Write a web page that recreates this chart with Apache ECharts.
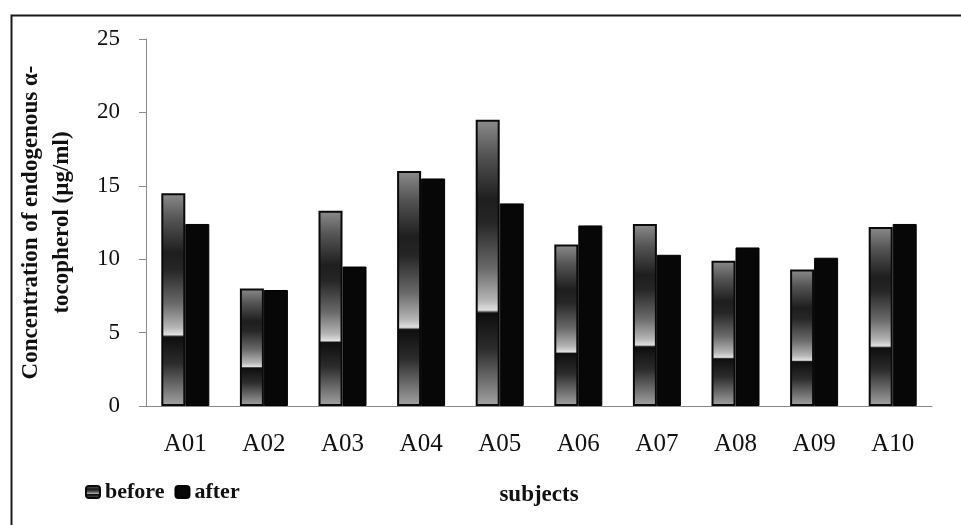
<!DOCTYPE html>
<html>
<head>
<meta charset="utf-8">
<title>Endogenous α-tocopherol before and after</title>
<script src="https://cdn.jsdelivr.net/npm/echarts@6/dist/echarts.min.js"></script>
<style>
  html, body { margin: 0; padding: 0; background: #ffffff; }
  #chart { width: 961px; height: 525px; }
</style>
</head>
<body>
<div id="chart"></div>
<script>
// Subjects and measured concentrations (µg/ml)
var subjects = ['A01', 'A02', 'A03', 'A04', 'A05', 'A06', 'A07', 'A08', 'A09', 'A10'];
var beforeValues = [14.5, 8.0, 13.3, 16.0, 19.5, 11.0, 12.4, 9.9, 9.3, 12.2];
var afterValues = [12.4, 7.9, 9.5, 15.5, 13.8, 12.3, 10.3, 10.8, 10.1, 12.4];
var yTicks = [0, 5, 10, 15, 20, 25];

var serif = 'Liberation Serif, Times New Roman, serif';

// Banded grey gradient used for the "before" bars
var beforeFill = new echarts.graphic.LinearGradient(0, 0, 0, 1, [
  { offset: 0.00, color: '#8c8c8c' },
  { offset: 0.12, color: '#555555' },
  { offset: 0.28, color: '#1e1e1e' },
  { offset: 0.36, color: '#262626' },
  { offset: 0.52, color: '#6a6a6a' },
  { offset: 0.63, color: '#b4b4b4' },
  { offset: 0.665, color: '#e0e0e0' },
  { offset: 0.675, color: '#0e0e0e' },
  { offset: 0.80, color: '#2c2c2c' },
  { offset: 1.00, color: '#a4a4a4' }
]);

var chart = echarts.init(document.getElementById('chart'), null, { renderer: 'canvas' });

chart.setOption({
  backgroundColor: '#ffffff',
  animation: false,
  graphic: [{
    type: 'rect',
    left: 9, top: 13,
    shape: { width: 1000, height: 600 },
    style: { fill: 'none', stroke: '#1a1a1a', lineWidth: 2 },
    z: 0
  }],
  grid: {
    left: 146, right: 29, top: 39, bottom: 119,
    containLabel: false,
    outerBoundsMode: 'none'
  },
  legend: {
    left: 80, top: 476,
    itemWidth: 14, itemHeight: 12, itemGap: 10,
    icon: 'roundRect',
    textStyle: { fontFamily: serif, fontWeight: 'bold', fontSize: 22, color: '#111' },
    data: ['before', 'after']
  },
  xAxis: {
    type: 'category',
    data: subjects,
    name: 'subjects',
    nameLocation: 'middle',
    nameGap: 78,
    nameTextStyle: { fontFamily: serif, fontWeight: 'bold', fontSize: 23, color: '#111' },
    axisLine: { lineStyle: { color: '#8a8a8a', width: 1 } },
    axisTick: { show: false },
    axisLabel: { fontFamily: serif, fontSize: 25, color: '#111', margin: 26 }
  },
  yAxis: {
    type: 'value',
    min: yTicks[0], max: yTicks[yTicks.length - 1], interval: 5,
    name: 'Concentration of endogenous α-\ntocopherol (µg/ml)',
    nameLocation: 'middle',
    nameRotate: 90,
    nameGap: 68,
    nameTextStyle: { fontFamily: serif, fontWeight: 'bold', fontSize: 23, lineHeight: 31, color: '#111' },
    axisLine: { show: true, lineStyle: { color: '#8a8a8a', width: 1 } },
    axisTick: { show: true, length: 7, lineStyle: { color: '#8a8a8a' } },
    splitLine: { show: false },
    axisLabel: { fontFamily: serif, fontSize: 23, color: '#111', margin: 26 }
  },
  series: [
    {
      name: 'before',
      type: 'bar',
      data: beforeValues,
      barWidth: 24,
      barGap: '0%',
      itemStyle: { color: beforeFill, borderColor: '#0a0a0a', borderWidth: 2 }
    },
    {
      name: 'after',
      type: 'bar',
      data: afterValues,
      barWidth: 24,
      itemStyle: { color: '#070707', borderColor: '#000', borderWidth: 1 }
    }
  ]
});
</script>
</body>
</html>
